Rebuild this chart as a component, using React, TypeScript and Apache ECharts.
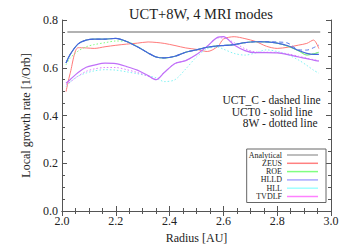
import React, { useEffect, useRef } from "react";
import * as echarts from "echarts";

const radius = [2.015, 2.03, 2.06, 2.09, 2.12, 2.16, 2.2, 2.24, 2.28, 2.32, 2.35, 2.38, 2.42, 2.46, 2.5, 2.54, 2.58, 2.6, 2.64, 2.68, 2.72, 2.76, 2.8, 2.84, 2.88, 2.91, 2.935, 2.955];

const analyticalRadius = [2.02, 2.96];
const analyticalRate = [0.75, 0.75];

const zeusSolid = [0.5, 0.575, 0.684, 0.683, 0.681, 0.688, 0.694, 0.699, 0.703, 0.708, 0.706, 0.702, 0.693, 0.683, 0.677, 0.668, 0.69, 0.72, 0.73, 0.722, 0.71, 0.69, 0.681, 0.686, 0.695, 0.702, 0.716, 0.68];
const roeSolid = [0.62, 0.655, 0.7, 0.716, 0.72, 0.72, 0.723, 0.71, 0.688, 0.662, 0.645, 0.641, 0.648, 0.665, 0.675, 0.686, 0.692, 0.693, 0.697, 0.705, 0.709, 0.708, 0.703, 0.69, 0.67, 0.653, 0.658, 0.665];
const roeDotted = [0.612, 0.64, 0.67, 0.688, 0.697, 0.705, 0.712, 0.71, 0.69, 0.662, 0.645, 0.641, 0.648, 0.665, 0.675, 0.686, 0.692, 0.693, 0.697, 0.705, 0.709, 0.708, 0.703, 0.69, 0.672, 0.657, 0.66, 0.663];
const hlldSolid = [0.62, 0.655, 0.7, 0.716, 0.72, 0.72, 0.723, 0.71, 0.688, 0.662, 0.645, 0.641, 0.648, 0.665, 0.675, 0.686, 0.692, 0.693, 0.697, 0.705, 0.709, 0.708, 0.703, 0.692, 0.672, 0.66, 0.656, 0.656];
const hlldDashed = [0.62, 0.655, 0.7, 0.716, 0.72, 0.72, 0.723, 0.71, 0.688, 0.662, 0.645, 0.641, 0.648, 0.665, 0.675, 0.686, 0.692, 0.693, 0.697, 0.705, 0.709, 0.709, 0.708, 0.703, 0.675, 0.674, 0.684, 0.695];
const hllDotted = [0.52, 0.54, 0.565, 0.578, 0.587, 0.592, 0.59, 0.583, 0.575, 0.566, 0.558, 0.542, 0.55, 0.595, 0.645, 0.68, 0.686, 0.678, 0.66, 0.653, 0.662, 0.675, 0.668, 0.654, 0.632, 0.61, 0.59, 0.577];
const tvdlfSolid = [0.535, 0.55, 0.58, 0.602, 0.611, 0.619, 0.617, 0.605, 0.59, 0.567, 0.55, 0.58, 0.618, 0.63, 0.655, 0.69, 0.728, 0.73, 0.695, 0.672, 0.663, 0.663, 0.662, 0.655, 0.645, 0.638, 0.632, 0.628];
const tvdlfDotted = [0.528, 0.54, 0.565, 0.585, 0.595, 0.601, 0.601, 0.592, 0.58, 0.565, 0.552, 0.58, 0.618, 0.63, 0.655, 0.69, 0.725, 0.725, 0.705, 0.68, 0.666, 0.665, 0.664, 0.658, 0.648, 0.64, 0.634, 0.63];

const xTicks = [2.0, 2.2, 2.4, 2.6, 2.8, 3.0];
const yTicks = [0.0, 0.2, 0.4, 0.6, 0.8];

const legendNames = ["Analytical", "ZEUS", "ROE", "HLLD", "HLL", "TVDLF"];
const legendColors = ["#a8a8a8", "#ff8080", "#80ff80", "#a8a8ff", "#a0ffff", "#ff80ff"];

const notes = ["UCT_C - dashed line", "UCT0 - solid line", "8W - dotted line"];

const FONT = "Liberation Serif";

function pairs(xs: number[], ys: number[]) {
  return xs.map((x, i) => [x, ys[i]]);
}

export default function App() {
  const ref = useRef<HTMLDivElement>(null);
  useEffect(() => {
    if (!ref.current) return;
    const chart = echarts.init(ref.current, null, { renderer: "svg" });
    const axisColor = "#555";
    const textColor = "#222";
    const line = (name: string, ys: number[], color: string, type: string, width = 1, z = 2) => ({
      name,
      type: "line",
      data: pairs(radius, ys),
      symbol: "none",
      smooth: 0.3,
      z,
      lineStyle: { color, width, type: type === "dotted" ? [1.5, 2] : type === "dashed" ? [4, 3] : "solid" },
      itemStyle: { color },
    });
    const xCommon = {
      type: "value",
      min: 2,
      max: 3,
      interval: 0.2,
      axisLine: { show: true, lineStyle: { color: axisColor, width: 1 } },
      axisTick: { show: true, inside: true, length: 5, lineStyle: { color: axisColor } },
      minorTick: { show: true, splitNumber: 4, length: 3, lineStyle: { color: axisColor } },
      splitLine: { show: false },
      minorSplitLine: { show: false },
    };
    const yCommon = {
      type: "value",
      min: 0,
      max: 0.8,
      interval: 0.2,
      axisLine: { show: true, lineStyle: { color: axisColor, width: 1 } },
      axisTick: { show: true, inside: true, length: 5, lineStyle: { color: axisColor } },
      minorTick: { show: true, splitNumber: 4, length: 3, lineStyle: { color: axisColor } },
      splitLine: { show: false },
      minorSplitLine: { show: false },
    };
    // style carriers (no data) so the legend shows the key colours
    const legendCarriers = legendNames.map((n, i) => ({
      name: n,
      type: "line",
      data: [],
      symbol: "none",
      lineStyle: { color: legendColors[i] },
      itemStyle: { color: legendColors[i] },
    }));
    chart.setOption({
      animation: false,
      backgroundColor: "#fff",
      title: {
        text: "UCT+8W, 4 MRI modes",
        left: 196,
        textAlign: "center",
        top: 1,
        textStyle: { fontFamily: FONT, fontSize: 14.5, fontWeight: "normal", color: textColor },
      },
      grid: { left: 62, right: 19, top: 20, bottom: 39 },
      legend: {
        orient: "vertical",
        right: 24,
        top: 149,
        align: "right",
        icon: "rect",
        padding: [2, 8, 2, 2],
        itemGap: 0.3,
        itemWidth: 31,
        itemHeight: 1.5,
        borderColor: "#666",
        borderWidth: 1,
        textStyle: { fontFamily: FONT, fontSize: 8, lineHeight: 8, color: textColor },
        data: legendNames.map((n, i) => ({
          name: n,
          itemStyle: { color: legendColors[i], borderWidth: 0 },
        })),
      },
      xAxis: [
        {
          ...xCommon,
          position: "bottom",
          name: "Radius [AU]",
          nameLocation: "middle",
          nameGap: 16,
          nameTextStyle: { fontFamily: FONT, fontSize: 12, color: textColor },
          axisLabel: {
            margin: 4,
            fontFamily: FONT,
            fontSize: 12,
            color: textColor,
            formatter: (v: number) => (xTicks.some((t) => Math.abs(t - v) < 1e-6) ? v.toFixed(1) : ""),
          },
        },
        { ...xCommon, position: "top", axisLabel: { show: false } },
      ],
      yAxis: [
        {
          ...yCommon,
          position: "left",
          name: "Local growth rate [1/Orb]",
          nameLocation: "middle",
          nameGap: 21,
          nameTextStyle: { fontFamily: FONT, fontSize: 12, color: textColor },
          axisLabel: {
            margin: 4,
            fontFamily: FONT,
            fontSize: 12,
            color: textColor,
            formatter: (v: number) => (yTicks.some((t) => Math.abs(t - v) < 1e-6) ? v.toFixed(1) : ""),
          },
        },
        { ...yCommon, position: "right", axisLabel: { show: false } },
      ],
      graphic: notes.map((t, i) => ({
        type: "text",
        x: [320.5, 312.5, 317.5][i],
        y: [99.5, 111.5, 123][i],
        style: {
          text: t,
          align: "right",
          verticalAlign: "middle",
          fontFamily: FONT,
          fontSize: 11.5,
          fill: textColor,
        },
      })),
      series: [
        {
          name: "Analytical",
          type: "line",
          data: pairs(analyticalRadius, analyticalRate),
          symbol: "none",
          lineStyle: { color: "#999", width: 1.5 },
          itemStyle: { color: "#999" },
        },
        line("ZEUS", zeusSolid, "#ff7a7a", "solid"),
        line("ROE", roeSolid, "#70e870", "solid"),
        line("ROE", roeDotted, "#80ff80", "dotted"),
        line("HLLD", hlldDashed, "#5a78e8", "dashed", 1, 3),
        line("HLLD", hlldSolid, "#4466dd", "solid", 1.2, 4),
        line("HLL", hllDotted, "#80f4f4", "dotted"),
        line("TVDLF", tvdlfDotted, "#e080ff", "dotted"),
        line("TVDLF", tvdlfSolid, "#c070f8", "solid", 1.2, 3),
        ...legendCarriers,
      ],
    });
    return () => chart.dispose();
  }, []);
  return <div ref={ref} style={{ position: "fixed", left: 0, top: 0, width: 350, height: 250 }} />;
}
